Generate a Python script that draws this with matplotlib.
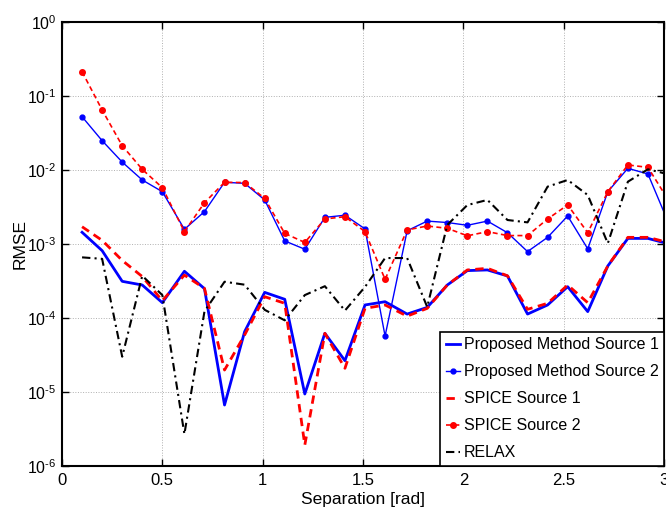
import numpy as np
import matplotlib
matplotlib.use('Agg')
import matplotlib.pyplot as plt

plt.rcParams['font.family'] = ['Liberation Sans', 'DejaVu Sans']
plt.rcParams['mathtext.fontset'] = 'custom'
plt.rcParams['mathtext.rm'] = 'Liberation Sans'
plt.rcParams['mathtext.it'] = 'Liberation Sans'

# separation [rad]
separation = [0.10, 0.20, 0.30, 0.40, 0.50, 0.61, 0.71, 0.81, 0.91, 1.01,
              1.11, 1.21, 1.31, 1.41, 1.51, 1.61, 1.72, 1.82, 1.92, 2.02,
              2.12, 2.22, 2.32, 2.42, 2.52, 2.62, 2.72, 2.82, 2.92, 3.02]

prop_src1 = [0.00144, 0.000813, 0.000313, 0.000279, 0.000161, 0.000428, 0.000249, 6.67e-6, 6.53e-5, 0.000222,
             0.000179, 9.4e-6, 6.21e-5, 2.65e-5, 0.00015, 0.000166, 0.000113, 0.000139, 0.000279, 0.000437,
             0.000446, 0.00037, 0.000113, 0.00015, 0.000265, 0.000122, 0.000505, 0.00119, 0.00119, 0.00101]

prop_src2 = [0.0525, 0.0249, 0.0128, 0.00733, 0.00509, 0.00158, 0.00274, 0.00682, 0.00661, 0.00394,
             0.0011, 0.00085, 0.00229, 0.00245, 0.0016, 5.7e-5, 0.00151, 0.00204, 0.00195, 0.00179,
             0.00204, 0.00142, 0.00079, 0.00123, 0.00239, 0.00086, 0.00509, 0.01054, 0.00883, 0.002]

spice_src1 = [0.00171, 0.00112, 0.00060, 0.000363, 0.000171, 0.00038, 0.000251, 1.98e-5, 5.89e-5, 0.000194,
              0.000158, 1.92e-6, 6.21e-5, 2.09e-5, 0.000135, 0.00015, 0.000106, 0.000135, 0.000279, 0.000446,
              0.000469, 0.000372, 0.000131, 0.000158, 0.000279, 0.000161, 0.000505, 0.00123, 0.00123, 0.00105]

spice_src2 = [0.213, 0.0647, 0.0213, 0.0102, 0.00577, 0.00147, 0.00361, 0.00682, 0.00676, 0.00414,
              0.00139, 0.00105, 0.00218, 0.00234, 0.00147, 0.000333, 0.00155, 0.00175, 0.00163, 0.00129,
              0.00147, 0.0013, 0.0013, 0.00218, 0.00337, 0.00142, 0.00509, 0.0117, 0.01086, 0.00398]

relax = [0.00066, 0.00063, 3.0e-5, 0.000372, 0.000204, 2.7e-6, 0.000123, 0.000309, 0.000282, 0.000129,
         9.3e-5, 0.000204, 0.000269, 0.000126, 0.000263, 0.000646, 0.000646, 0.000141, 0.00181, 0.00336,
         0.00394, 0.00211, 0.00196, 0.00596, 0.00733, 0.00459, 0.00102, 0.00695, 0.01023, 0.00877]

xticks = [0, 0.5, 1, 1.5, 2, 2.5, 3]
xtick_labels = ['0', '0.5', '1', '1.5', '2', '2.5', '3']
yexps = [-6, -5, -4, -3, -2, -1, 0]

fig = plt.figure(figsize=(6.66, 5.16), dpi=100)
ax = fig.add_axes([62 / 666, 50 / 516, 602 / 666, 444 / 516])

ax.semilogy(separation, prop_src1, '-', color='blue', lw=2, label='Proposed Method Source 1')
ax.semilogy(separation, prop_src2, '.-', color='blue', lw=1, ms=7, label='Proposed Method Source 2')
ax.semilogy(separation, spice_src1, '--', color='red', lw=2, dashes=(3, 2), label='SPICE Source 1')
ax.semilogy(separation, spice_src2, '.--', color='red', lw=1.2, ms=8, dashes=(3, 2), label='SPICE Source 2')
ax.semilogy(separation, relax, color='black', lw=1.5, dashes=(4, 2, 1, 2), label='RELAX')

ax.set_xlim(0, 3)
ax.set_ylim(1e-6, 1)
ax.set_xticks(xticks)
ax.set_xticklabels(xtick_labels)
ax.set_yticks([10.0 ** e for e in yexps])
# short hyphen in the exponent, like the MATLAB labels
ax.set_yticklabels(['$10^{%s}$' % str(e).replace('-', '\u2010') for e in yexps])
ax.minorticks_off()
ax.tick_params(direction='in', top=True, right=True, length=5, width=1, labelsize=12, pad=5)
ax.tick_params(axis='y', labelsize=11.5, pad=4)
ax.grid(True, linestyle=':', color='#b0b0b0', linewidth=0.7)
for s in ax.spines.values():
    s.set_linewidth(1.5)

ax.set_xlabel('Separation [rad]', fontsize=12.5, labelpad=3)
ax.set_ylabel('RMSE', fontsize=12.5)
ax.yaxis.set_label_coords(-34 / 602, 0.5)

leg = ax.legend(loc='lower right', fontsize=11.5, handlelength=0.9, handletextpad=0.2,
                borderpad=0.35, labelspacing=0.75, borderaxespad=0, fancybox=False,
                edgecolor='black', framealpha=1)
leg.get_frame().set_linewidth(1.2)

fig.savefig('out.png', dpi=100)
